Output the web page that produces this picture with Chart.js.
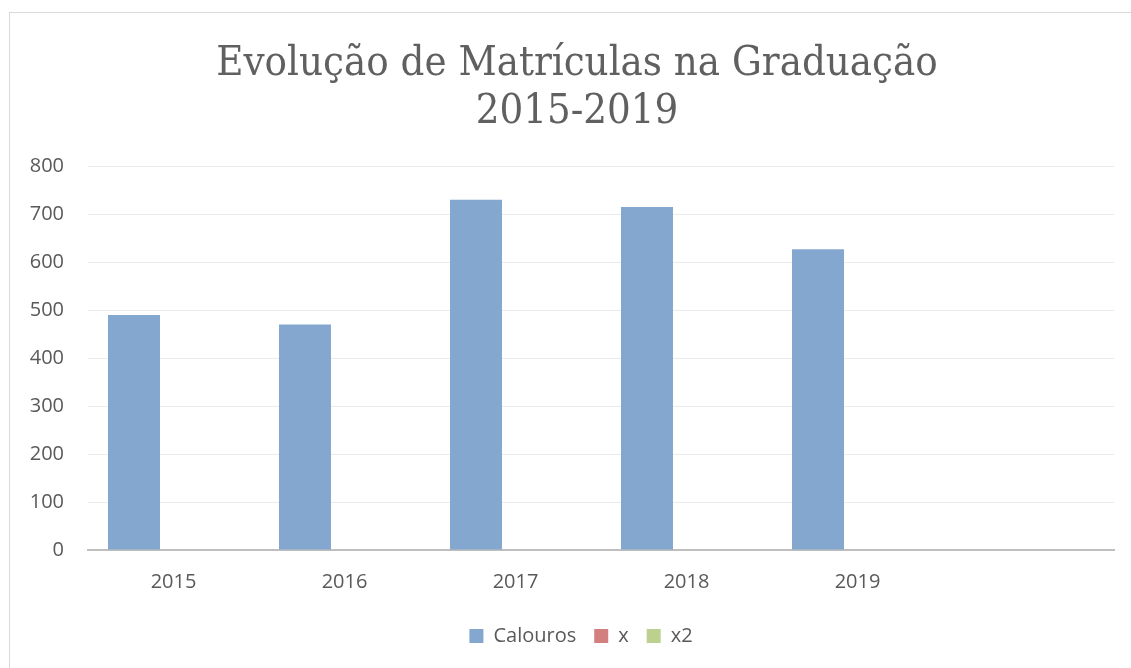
<!DOCTYPE html>
<html>
<head>
<meta charset="utf-8">
<script src="https://cdn.jsdelivr.net/npm/chart.js@4/dist/chart.umd.min.js"></script>
<style>
  html, body { margin: 0; padding: 0; background: #fff; }
  #wrap { position: absolute; left: 9px; top: 12px; width: 1122px; height: 660px; border: 1px solid #d9d9d9; border-right: none; border-bottom: none; }
  canvas { display: block; }
</style>
</head>
<body>
<div id="wrap"><canvas id="chart" width="1121" height="655"></canvas></div>
<script>
// Evolução de Matrículas - gráfico de barras
const categories = ['2015', '2016', '2017', '2018', '2019', ''];
const calouros = [490, 470, 730, 715, 627, null];
const serieX = [0, 0, 0, 0, 0, null];
const serieX2 = [0, 0, 0, 0, 0, null];
const yTicks = [0, 100, 200, 300, 400, 500, 600, 700, 800];

const textColor = '#595959';

// empurra título e legenda um pouco para a direita, como no original
const boxShift = {
    id: 'boxShift',
    afterLayout(chart) {
        if (chart.legend) { chart.legend.left += 19; chart.legend.right += 19; }
        if (chart.titleBlock) { chart.titleBlock.left += 15; chart.titleBlock.right += 15; }
    }
};

new Chart(document.getElementById('chart'), {
    type: 'bar',
    data: {
        labels: categories,
        datasets: [
            { label: 'Calouros', data: calouros, backgroundColor: '#84a7cf' },
            { label: 'x', data: serieX, backgroundColor: '#d47f7f' },
            { label: 'x2', data: serieX2, backgroundColor: '#bcd18d' }
        ]
    },
    plugins: [boxShift],
    options: {
        responsive: false,
        animation: false,
        categoryPercentage: 0.693,
        barPercentage: 1.316,
        layout: { padding: { left: 0, right: 17, top: 0, bottom: 12 } },
        plugins: {
            title: {
                display: true,
                text: ['Evolução de Matrículas na Graduação', '2015-2019'],
                color: '#606060',
                font: { family: 'DejaVu Serif Condensed', size: 41.5, weight: 'normal', lineHeight: 1.16 },
                padding: { top: 27, bottom: 30 }
            },
            legend: {
                position: 'bottom',
                labels: {
                    color: textColor,
                    font: { family: 'Open Sans', size: 20 },
                    boxWidth: 14, boxHeight: 14,
                    padding: 18
                }
            },
            tooltip: { enabled: false }
        },
        scales: {
            x: {
                grid: { display: false, drawTicks: false },
                border: { color: '#bfbfbf', width: 2 },
                ticks: { color: textColor, font: { family: 'Open Sans', size: 20 }, padding: 20 },
                afterFit: (s) => { s.height -= 6; }
            },
            y: {
                min: 0, max: 800,
                afterBuildTicks: (s) => { s.ticks = yTicks.map(v => ({ value: v })); },
                afterFit: (s) => { s.width = 78; },
                grid: { color: '#ebebeb', lineWidth: 1, drawTicks: false },
                border: { display: false },
                ticks: { color: textColor, font: { family: 'Open Sans', size: 20 }, padding: 24 }
            }
        }
    }
});
</script>
</body>
</html>
